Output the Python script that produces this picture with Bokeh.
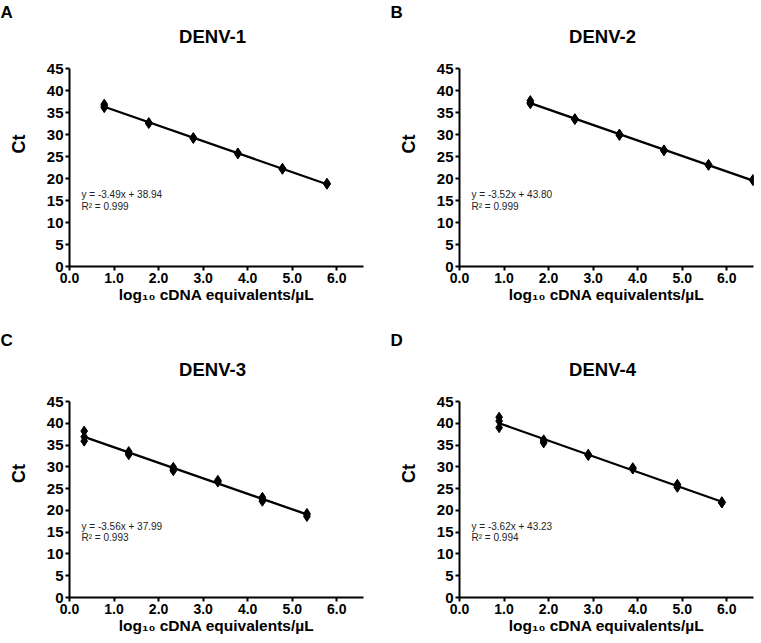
from bokeh.plotting import figure
from bokeh.layouts import gridplot
from bokeh.models import Range1d, FixedTicker, NumeralTickFormatter, Label, ColumnDataSource
from bokeh.embed import file_html
from bokeh.resources import INLINE
import numpy as np

# ---------------- data ----------------
panel_letters = ["A", "B", "C", "D"]
titles = ["DENV-1", "DENV-2", "DENV-3", "DENV-4"]
equations = ["y = -3.49x + 38.94", "y = -3.52x + 43.80", "y = -3.56x + 37.99", "y = -3.62x + 43.23"]
r2_texts = ["R\u00b2 = 0.999", "R\u00b2 = 0.999", "R\u00b2 = 0.993", "R\u00b2 = 0.994"]
x_ticks = [0, 1, 2, 3, 4, 5, 6]
y_ticks = [0, 5, 10, 15, 20, 25, 30, 35, 40, 45]
x_label = "log\u2081\u2080 cDNA equivalents/\u00b5L"
y_label = "Ct"

denv1_log = [0.78, 0.78, 0.78, 1.78, 1.78, 1.78, 2.78, 2.78, 2.78,
             3.78, 3.78, 3.78, 4.78, 4.78, 4.78, 5.78, 5.78, 5.78]
denv1_ct = [36.9, 36.5, 36.1, 32.7, 32.6, 32.5, 29.3, 29.2, 29.1,
            25.8, 25.7, 25.6, 22.3, 22.2, 22.1, 18.9, 18.8, 18.7]

denv2_log = [1.59, 1.59, 1.59, 2.59, 2.59, 2.59, 3.59, 3.59, 3.59,
             4.59, 4.59, 4.59, 5.59, 5.59, 5.59, 6.59, 6.59, 6.59]
denv2_ct = [37.7, 37.3, 37.0, 33.6, 33.5, 33.4, 30.1, 29.9, 29.8,
            26.5, 26.4, 26.3, 23.2, 23.1, 23.0, 19.8, 19.6, 19.5]

denv3_log = [0.33, 0.33, 0.33, 1.33, 1.33, 1.33, 2.33, 2.33, 2.33,
             3.33, 3.33, 3.33, 4.33, 4.33, 4.33, 5.33, 5.33, 5.33]
denv3_ct = [38.2, 36.9, 35.9, 33.5, 33.1, 32.8, 29.9, 29.5, 29.1,
            26.9, 26.7, 26.5, 23.0, 22.6, 22.1, 19.3, 19.0, 18.6]

denv4_log = [0.89, 0.89, 0.89, 1.89, 1.89, 1.89, 2.89, 2.89, 2.89,
             3.89, 3.89, 3.89, 4.89, 4.89, 4.89, 5.89, 5.89, 5.89]
denv4_ct = [41.4, 40.5, 39.0, 36.2, 35.9, 35.5, 32.9, 32.7, 32.6,
            29.8, 29.6, 29.5, 26.0, 25.6, 25.3, 22.0, 21.8, 21.7]

series = [(denv1_log, denv1_ct), (denv2_log, denv2_ct), (denv3_log, denv3_ct), (denv4_log, denv4_ct)]

FONT = "Liberation Sans"
X_MAX = 6.6
Y_MAX = 45

# layout: (width, height, left, right, top, bottom, px above the frame top where the 45 line sits)
layouts = [
    (390, 320, 69, 27, 21, 54, 47),
    (370, 320, 69, 7, 21, 54, 47),
    (390, 321, 69, 27, 29, 44, 52),
    (370, 321, 69, 7, 29, 44, 52),
]
TITLE_TOP_ABOVE = 43  # px between the 45 line and the top of the title text box


def make_panel(i):
    w, h, bl, br, bt, bb, extra = layouts[i]
    fw = w - bl - br
    fh = h - bt - bb
    plot_px = fh - extra               # pixels spanned by 0..45
    px_per_y = plot_px / Y_MAX
    y_top = Y_MAX + extra / px_per_y   # frame top, so the title fits inside the frame
    px_per_x = fw / X_MAX

    p = figure(width=w, height=h, output_backend="svg", toolbar_location=None,
               x_range=Range1d(0, X_MAX), y_range=Range1d(0, y_top),
               min_border_left=bl, min_border_right=br, min_border_top=bt, min_border_bottom=bb)
    p.outline_line_color = None
    p.xgrid.visible = False
    p.ygrid.visible = False
    p.background_fill_color = "white"
    p.border_fill_color = "white"

    # panel letter as the figure title
    p.title.text = panel_letters[i]
    p.title.align = "left"
    p.title.offset = -bl
    p.title.text_font = FONT
    p.title.text_font_style = "bold"
    p.title.text_font_size = "17px"
    p.title.text_color = "black"
    p.title.standoff = 0

    for ax in (p.xaxis[0], p.yaxis[0]):
        ax.axis_line_width = 2
        ax.axis_line_color = "black"
        ax.major_tick_line_width = 2
        ax.major_tick_line_color = "black"
        ax.major_tick_out = 4
        ax.major_tick_in = 0
        ax.minor_tick_line_color = None
        ax.major_label_text_font = FONT
        ax.major_label_text_font_style = "bold"
        ax.major_label_text_color = "black"
        ax.axis_label_text_font = FONT
        ax.axis_label_text_font_style = "bold"
        ax.axis_label_text_color = "black"
        ax.major_label_standoff = 2

    p.xaxis[0].ticker = FixedTicker(ticks=x_ticks)
    p.xaxis[0].formatter = NumeralTickFormatter(format="0.0")
    p.xaxis[0].major_label_text_font_size = "14px"
    p.xaxis[0].axis_label = x_label
    p.xaxis[0].axis_label_text_font_size = "15.5px"
    p.xaxis[0].axis_label_standoff = 0

    p.yaxis[0].ticker = FixedTicker(ticks=y_ticks)
    p.yaxis[0].bounds = (0, Y_MAX)
    p.yaxis[0].major_label_text_font_size = "15px"
    p.yaxis[0].axis_label = y_label
    p.yaxis[0].axis_label_text_font_size = "18px"
    p.yaxis[0].axis_label_standoff = 15

    xs, ys = series[i]
    xs_a = np.array(xs)
    ys_a = np.array(ys)
    slope, intercept = np.polyfit(xs_a, ys_a, 1)
    lx = [xs_a.min(), xs_a.max()]
    ly = [slope * lx[0] + intercept, slope * lx[1] + intercept]
    p.line(lx, ly, line_color="black", line_width=2.3)
    src = ColumnDataSource(dict(x=xs, y=ys))
    p.scatter("x", "y", source=src, marker="diamond", size=10,
              fill_color="black", line_color="black", line_width=1)

    p.add_layout(Label(x=0.27, y=17.6, text=equations[i], text_font=FONT,
                       text_font_size="10px", text_baseline="top", text_color="#222222"))
    p.add_layout(Label(x=0.27, y=15.0, text=r2_texts[i], text_font=FONT,
                       text_font_size="10px", text_baseline="top", text_color="#222222"))

    # chart title, inside the (taller) frame above the 45 line
    p.add_layout(Label(x=(fw / 2 - 4) / px_per_x, y=Y_MAX + TITLE_TOP_ABOVE / px_per_y,
                       text=titles[i], text_font=FONT, text_font_style="bold",
                       text_font_size="18.5px", text_align="center", text_baseline="top",
                       text_color="black"))
    return p


panels = [make_panel(i) for i in range(4)]
grid = gridplot([[panels[0], panels[1]], [panels[2], panels[3]]], toolbar_location=None)

open("out.html", "w").write(file_html(grid, INLINE))
